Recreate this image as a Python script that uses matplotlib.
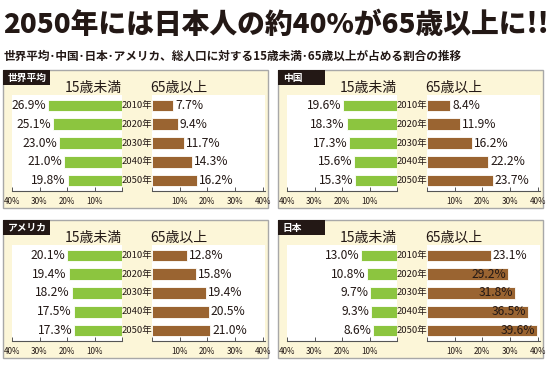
import matplotlib
matplotlib.use("Agg")
import matplotlib.pyplot as plt
from matplotlib.patches import Rectangle
from matplotlib.transforms import blended_transform_factory

plt.rcParams['font.family'] = ['Noto Sans CJK JP', 'DejaVu Sans']

# data
years = ['2010年', '2020年', '2030年', '2040年', '2050年']
regions = ['世界平均', '中国', 'アメリカ', '日本']
under15 = {
    '世界平均': [26.9, 25.1, 23.0, 21.0, 19.8],
    '中国': [19.6, 18.3, 17.3, 15.6, 15.3],
    'アメリカ': [20.1, 19.4, 18.2, 17.5, 17.3],
    '日本': [13.0, 10.8, 9.7, 9.3, 8.6],
}
over65 = {
    '世界平均': [7.7, 9.4, 11.7, 14.3, 16.2],
    '中国': [8.4, 11.9, 16.2, 22.2, 23.7],
    'アメリカ': [12.8, 15.8, 19.4, 20.5, 21.0],
    '日本': [23.1, 29.2, 31.8, 36.5, 39.6],
}
left_ticks = [40, 30, 20, 10]
right_ticks = [10, 20, 30, 40]

title = '2050年には日本人の約40%が65歳以上に!!'
subtitle = '世界平均･中国･日本･アメリカ、総人口に対する15歳未満･65歳以上が占める割合の推移'

GREEN = '#8cc53f'
BROWN = '#9a6431'
BEIGE = '#fcf6d8'
DARK = '#231815'

W, H = 550, 372
fig = plt.figure(figsize=(W / 100, H / 100), dpi=100)


def frect(x, y, w, h):
    # pixel box (top-left origin) -> figure fraction
    return [x / W, 1 - (y + h) / H, w / W, h / H]


fig.text(3 / W, 1 - 25 / H, title, fontsize=20, fontweight='black',
         color=DARK, va='center', ha='left')
fig.text(4 / W, 1 - 56 / H, subtitle, fontsize=8.4, fontweight='bold',
         color=DARK, va='center', ha='left')

# panel origins (x, top)
origins = [(0, 70), (275, 70), (0, 220), (275, 220)]

for name, (ox, oy) in zip(regions, origins):
    # background
    bg = frect(ox + 3, oy, 265, 138)
    fig.patches.append(Rectangle((bg[0], bg[1]), bg[2], bg[3], transform=fig.transFigure,
                                 facecolor=BEIGE, edgecolor='#a8a8a8', lw=1.0, zorder=-2))
    # label box
    lb = frect(ox + 3, oy, 47, 15)
    fig.patches.append(Rectangle((lb[0], lb[1]), lb[2], lb[3], transform=fig.transFigure,
                                 facecolor=DARK, edgecolor='none', zorder=-1))
    fig.text(lb[0] + 5 / W, lb[1] + lb[3] / 2, name, color='white', fontsize=7,
             fontweight='bold', va='center', ha='left')

    # headers
    fig.text((ox + 122) / W, 1 - (oy + 18) / H, '15歳未満', fontsize=10,
             color=DARK, ha='right', va='center')
    fig.text((ox + 150) / W, 1 - (oy + 18) / H, '65歳以上', fontsize=10,
             color=DARK, ha='left', va='center')

    ax_l = fig.add_axes(frect(ox + 12, oy + 25, 110, 96))
    ax_r = fig.add_axes(frect(ox + 152, oy + 25, 113, 96))

    ys = list(range(len(years)))
    ax_l.barh(ys, under15[name], height=0.62, color=GREEN, edgecolor='white', lw=0.6)
    ax_r.barh(ys, over65[name], height=0.62, color=BROWN, edgecolor='white', lw=0.6)

    for y, v in zip(ys, under15[name]):
        ax_l.text(v + 0.7, y, f'{v:.1f}%', ha='right', va='center', fontsize=8.7, color=DARK)
    for y, v in zip(ys, over65[name]):
        if v > 27:
            ax_r.text(v - 0.6, y, f'{v:.1f}%', ha='right', va='center', fontsize=8.7, color=DARK)
        else:
            ax_r.text(v + 0.7, y, f'{v:.1f}%', ha='left', va='center', fontsize=8.7, color=DARK)

    tr = blended_transform_factory(ax_r.transAxes, ax_r.transData)
    for y, yr in zip(ys, years):
        ax_r.text(-15 / 113, y, yr, transform=tr, ha='center', va='center',
                  fontsize=6.8, color=DARK)

    ax_l.set_xlim(40, 0)
    ax_r.set_xlim(0, 40.8)
    ax_l.set_xticks(left_ticks + [0])
    ax_l.set_xticklabels([f'{t}%' for t in left_ticks] + [''])
    ax_r.set_xticks([0] + right_ticks)
    ax_r.set_xticklabels([''] + [f'{t}%' for t in right_ticks])

    for ax in (ax_l, ax_r):
        ax.set_ylim(4.55, -0.55)
        ax.set_yticks([])
        ax.set_facecolor('white')
        for s in ('top', 'right', 'left'):
            ax.spines[s].set_visible(False)
        ax.spines['bottom'].set_color('#555555')
        ax.spines['bottom'].set_linewidth(0.8)
        ax.tick_params(axis='x', direction='in', length=3, width=0.7, color='#555555',
                       labelsize=5.8, labelcolor=DARK, pad=4)

fig.savefig('out.png', dpi=100)
